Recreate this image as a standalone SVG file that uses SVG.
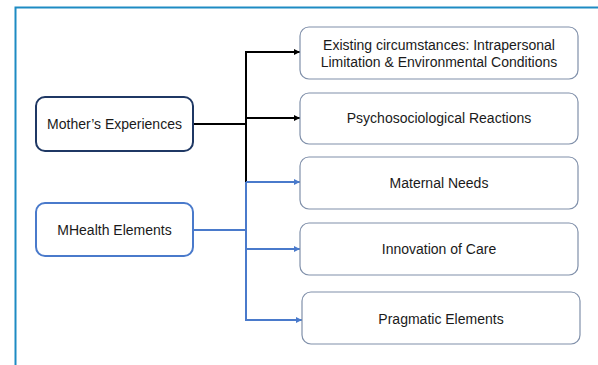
<svg xmlns="http://www.w3.org/2000/svg" width="598" height="365" viewBox="0 0 598 365">
<style>
text{font-family:"Liberation Sans",Arial,sans-serif;font-size:14px;fill:#1a1a1a;text-anchor:middle}
.out{fill:#fff;stroke:#8090aa;stroke-width:1.2}
.blk{stroke:#000;stroke-width:2;fill:none}
.blu{stroke:#4a7acb;stroke-width:2;fill:none}
</style>
<defs>
<marker id="ab" viewBox="0 0 6 6" refX="6" refY="3" markerWidth="6" markerHeight="6" markerUnits="userSpaceOnUse" orient="auto"><path d="M0,0L6,3L0,6z" fill="#000"/></marker>
<marker id="au" viewBox="0 0 6 6" refX="6" refY="3" markerWidth="6" markerHeight="6" markerUnits="userSpaceOnUse" orient="auto"><path d="M0,0L6,3L0,6z" fill="#4a7acb"/></marker>
</defs>
<rect x="0" y="0" width="598" height="365" fill="#fff"/>
<path d="M15.5,365V7.5H598" fill="none" stroke="#1e8bc3" stroke-width="2"/>
<g id="connectors">
<path class="blk" d="M193,124H246"/>
<path class="blk" d="M246,182V52H300" marker-end="url(#ab)"/>
<path class="blk" d="M246,118H300" marker-end="url(#ab)"/>
<path class="blu" d="M193,230H246"/>
<path class="blu" d="M246,182H300" marker-end="url(#au)"/>
<path class="blu" d="M246,182V320H302" marker-end="url(#au)"/>
<path class="blu" d="M246,249H300" marker-end="url(#au)"/>
</g>
<g id="mother"><rect x="36" y="97" width="157" height="54" rx="9" fill="#fff" stroke="#1f3864" stroke-width="2"/><text x="114.5" y="129">Mother’s Experiences</text></g>
<g id="mhealth"><rect x="36" y="203" width="157" height="53" rx="9" fill="#fff" stroke="#4a7acb" stroke-width="2"/><text x="114.5" y="235">MHealth Elements</text></g>
<g id="existing"><rect class="out" x="300" y="27" width="278" height="52" rx="9"/><text x="439" y="50">Existing circumstances: Intrapersonal</text><text x="439" y="67">Limitation &amp; Environmental Conditions</text></g>
<g id="psycho"><rect class="out" x="300" y="93" width="278" height="51" rx="9"/><text x="439" y="123">Psychosociological Reactions</text></g>
<g id="needs"><rect class="out" x="300" y="157" width="278" height="52" rx="9"/><text x="439" y="188">Maternal Needs</text></g>
<g id="innovation"><rect class="out" x="300" y="223" width="278" height="52" rx="9"/><text x="439" y="254">Innovation of Care</text></g>
<g id="pragmatic"><rect class="out" x="302" y="292" width="278" height="52" rx="9"/><text x="441" y="324">Pragmatic Elements</text></g>
</svg>
